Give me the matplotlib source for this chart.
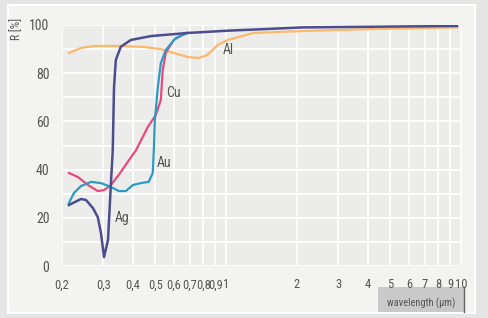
import numpy as np
import matplotlib
matplotlib.use('Agg')
import matplotlib.pyplot as plt
from matplotlib.patches import Rectangle
from matplotlib import font_manager

# narrow font if one is installed
names = {f.name for f in font_manager.fontManager.ttflist}
narrow = [n for n in ['Liberation Sans Narrow', 'DejaVu Sans Condensed', 'Roboto Condensed',
                      'Open Sans Condensed'] if n in names]
plt.rcParams['font.family'] = narrow + ['DejaVu Sans']
if not narrow:
    plt.rcParams['font.stretch'] = 'condensed'

#------- data -----------------------------------------------
ag_x = [0.214, 0.241, 0.253, 0.271, 0.284, 0.293, 0.302, 0.314, 0.323, 0.329,
        0.333, 0.339, 0.356, 0.393, 0.478, 0.686, 1.045, 2.13, 9.62]
ag_y = [25.3, 27.8, 27.4, 24.0, 20.3, 13.7, 3.7, 10.8, 34.0, 48.0,
        74.0, 85.5, 91.0, 93.8, 95.4, 96.7, 97.7, 99.0, 99.6]

au_x = [0.214, 0.225, 0.241, 0.266, 0.293, 0.323, 0.349, 0.374, 0.401, 0.433,
        0.468, 0.487, 0.492, 0.497, 0.512, 0.527, 0.553, 0.610, 0.686]
au_y = [26.1, 30.3, 33.2, 34.9, 34.4, 32.8, 31.1, 31.1, 33.6, 34.4,
        34.9, 38.6, 48.0, 60.6, 74.3, 84.2, 89.6, 94.6, 96.7]

cu_x = [0.214, 0.234, 0.258, 0.284, 0.302, 0.323, 0.349, 0.381, 0.413, 0.464,
        0.502, 0.527, 0.537, 0.553, 0.598, 0.673]
cu_y = [38.6, 36.9, 33.6, 31.1, 31.5, 33.6, 37.8, 43.2, 48.0, 57.7,
        62.7, 68.9, 81.3, 88.4, 93.8, 96.7]

al_x = [0.214, 0.241, 0.274, 0.356, 0.446, 0.527, 0.598, 0.686, 0.764, 0.834,
        0.920, 1.015, 1.308, 2.13, 4.11, 9.62]
al_y = [88.4, 90.5, 91.3, 91.3, 90.9, 90.0, 88.4, 86.7, 86.3, 87.6,
        91.7, 93.8, 96.7, 97.5, 98.3, 99.0]

labels = {'Al': (1.024, 89.6), 'Cu': (0.598, 71.8), 'Au': (0.543, 42.7), 'Ag': (0.360, 19.9)}

xticks = [0.2, 0.3, 0.4, 0.5, 0.6, 0.7, 0.8, 0.9, 1, 2, 3, 4, 5, 6, 7, 8, 9, 10]
xticklabels = ['0,2', '0,3', '0,4', '0,5', '0,6', '0,7', '0,8', '0,9', '1',
               '2', '3', '4', '5', '6', '7', '8', '9', '10']
yticks = [0, 20, 40, 60, 80, 100]

#------- plotting -----------------------------------------------
fig = plt.figure(figsize=(4.89, 3.18), dpi=100)
fig.patch.set_facecolor('#e5e5e5')
fig.patches.append(Rectangle((8/489, 1-313/318), 467/489, 308/318, transform=fig.transFigure,
                             facecolor='#f3f4f2', edgecolor='white', lw=1.5, zorder=-5))

ax = fig.add_axes([62/489, 1-266/318, 400/489, 241/318])
ax.set_zorder(2)
ax.set_facecolor('#ecedeb')
ax.set_xscale('log')
ax.set_xlim(0.2, 10.1)
ax.set_ylim(0, 100)

ax.set_xticks(xticks, minor=False)
ax.set_xticks([], minor=True)
ax.set_xticklabels(xticklabels)
ax.set_yticks(np.arange(0, 101, 10), minor=True)
ax.set_yticks(yticks)
ax.grid(True, which='both', color='white', lw=1.2)
ax.set_axisbelow(True)
ax.tick_params(which='both', length=0, labelsize=10, colors='#555555', pad=9)
ax.tick_params(axis='x', labelsize=9)
for s in ax.spines.values():
    s.set_visible(False)

ax.plot(al_x, al_y, color='#fbb96c', lw=1.6)
ax.plot(cu_x, cu_y, color='#e84a7c', lw=1.6)
ax.plot(au_x, au_y, color='#2a9cc4', lw=1.6)
ax.plot(ag_x, ag_y, color='#4c4d8e', lw=1.8)

for k, (lx, ly) in labels.items():
    ax.text(lx, ly, k, fontsize=10, color='#555555', ha='center', va='center')

fig.text(17/489, 1-18/318, 'R [%]', rotation=90, fontsize=8.5, color='#555555', ha='center', va='top')

# box under right axis
fig.patches.append(Rectangle((378/489, 1-312/318), 86/489, 25/318, transform=fig.transFigure,
                             facecolor='#c9c9c9', edgecolor='none', zorder=1))
fig.text(421/489, 1-303/318, 'wavelength (µm)', fontsize=7.5, color='#555555',
         ha='center', va='center', zorder=3)
fig.add_artist(plt.Line2D([464/489, 464/489], [1-312/318, 1-287/318], color='#666666', lw=1))

fig.savefig('out.png', dpi=100, facecolor=fig.get_facecolor())
